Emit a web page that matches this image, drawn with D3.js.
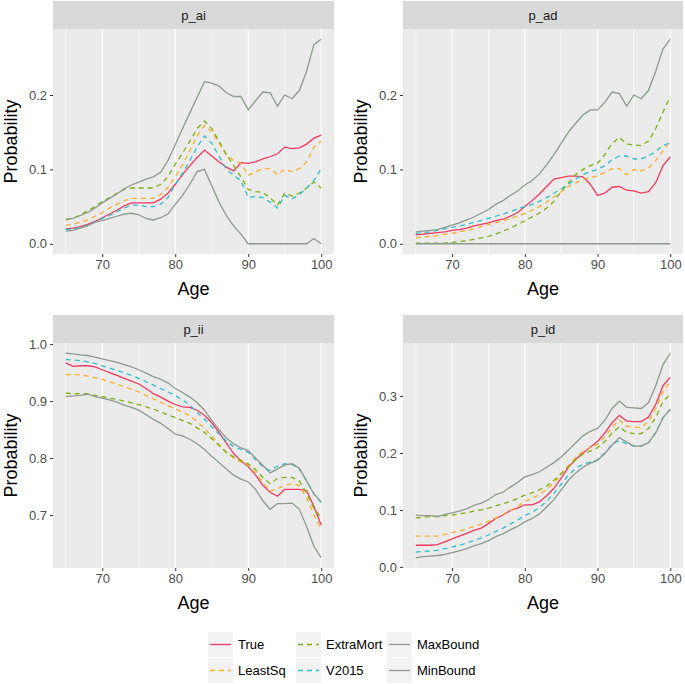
<!DOCTYPE html>
<html>
<head>
<meta charset="utf-8">
<script src="https://cdn.jsdelivr.net/npm/d3@7"></script>
<style>
  body { margin: 0; background: #fff; }
  svg { font-family: "Liberation Sans", Arial, sans-serif; }
</style>
</head>
<body>
<svg width="685" height="684"></svg>
<script>
// ages on x axis
var ages = d3.range(65, 101);

var seriesNames = ["True", "LeastSq", "ExtraMort", "V2015", "MaxBound", "MinBound"];
var colors = ["#F23A5E", "#FBAE2C", "#7CB10F", "#2EBFD0", "#8E9A8E", "#8E9A8E"];
var dashed = [false, true, true, true, false, false];

// p_ai
var ai_true  = [0.020,0.021,0.023,0.026,0.030,0.035,0.040,0.045,0.051,0.055,0.055,0.055,0.055,0.060,0.068,0.080,0.093,0.105,0.116,0.126,0.118,0.110,0.103,0.098,0.109,0.108,0.110,0.114,0.117,0.121,0.130,0.128,0.129,0.134,0.142,0.146];
var ai_lsq   = [0.025,0.026,0.029,0.032,0.037,0.042,0.048,0.053,0.058,0.061,0.061,0.061,0.061,0.066,0.076,0.090,0.106,0.125,0.145,0.159,0.151,0.135,0.120,0.112,0.108,0.092,0.097,0.101,0.101,0.093,0.100,0.097,0.101,0.110,0.130,0.138];
var ai_extra = [0.032,0.034,0.039,0.044,0.050,0.057,0.062,0.068,0.073,0.075,0.075,0.075,0.075,0.080,0.090,0.107,0.122,0.138,0.155,0.165,0.155,0.138,0.120,0.105,0.090,0.073,0.070,0.069,0.062,0.052,0.068,0.064,0.068,0.075,0.083,0.075];
var ai_v2015 = [0.019,0.020,0.022,0.025,0.029,0.034,0.038,0.043,0.048,0.052,0.052,0.050,0.050,0.053,0.062,0.080,0.095,0.112,0.130,0.145,0.135,0.118,0.100,0.092,0.085,0.062,0.064,0.062,0.056,0.048,0.065,0.060,0.066,0.075,0.085,0.101];
var ai_max   = [0.033,0.034,0.038,0.042,0.048,0.055,0.061,0.067,0.074,0.079,0.083,0.087,0.090,0.096,0.112,0.133,0.155,0.176,0.197,0.218,0.216,0.212,0.203,0.198,0.198,0.180,0.192,0.204,0.203,0.185,0.200,0.195,0.206,0.232,0.268,0.275];
var ai_min   = [0.017,0.018,0.021,0.024,0.029,0.031,0.034,0.037,0.040,0.041,0.039,0.034,0.032,0.035,0.040,0.053,0.065,0.080,0.097,0.100,0.078,0.056,0.038,0.024,0.013,0.000,0.000,0.000,0.000,0.000,0.000,0.000,0.000,0.000,0.007,0.000];

// p_ad
var ad_true  = [0.012,0.013,0.014,0.015,0.016,0.018,0.019,0.021,0.024,0.026,0.028,0.031,0.033,0.037,0.042,0.050,0.058,0.067,0.077,0.087,0.089,0.091,0.091,0.090,0.080,0.065,0.068,0.076,0.077,0.072,0.071,0.068,0.070,0.082,0.105,0.117];
var ad_lsq   = [0.008,0.009,0.010,0.011,0.013,0.014,0.016,0.018,0.020,0.023,0.026,0.028,0.031,0.034,0.037,0.041,0.045,0.050,0.056,0.063,0.070,0.077,0.082,0.086,0.089,0.091,0.096,0.101,0.101,0.093,0.100,0.098,0.102,0.112,0.125,0.138];
var ad_extra = [0.001,0.001,0.001,0.001,0.001,0.002,0.003,0.004,0.006,0.008,0.010,0.013,0.017,0.021,0.026,0.031,0.036,0.041,0.048,0.057,0.070,0.082,0.093,0.100,0.105,0.108,0.120,0.135,0.143,0.134,0.133,0.132,0.138,0.155,0.177,0.198];
var ad_v2015 = [0.014,0.015,0.016,0.018,0.020,0.022,0.024,0.026,0.029,0.031,0.034,0.037,0.040,0.043,0.047,0.050,0.053,0.057,0.062,0.068,0.074,0.080,0.087,0.093,0.097,0.100,0.105,0.113,0.118,0.118,0.114,0.114,0.118,0.124,0.132,0.136];
var ad_max   = [0.016,0.017,0.018,0.019,0.022,0.025,0.028,0.032,0.036,0.041,0.046,0.053,0.058,0.065,0.071,0.079,0.085,0.094,0.106,0.120,0.135,0.150,0.162,0.173,0.180,0.180,0.190,0.204,0.202,0.185,0.200,0.195,0.206,0.232,0.262,0.275];
var ad_min   = [0,0,0,0,0,0,0,0,0,0,0,0,0,0,0,0,0,0,0,0,0,0,0,0,0,0,0,0,0,0,0,0,0,0,0,0];

// p_ii
var ii_true  = [0.967,0.961,0.962,0.962,0.960,0.955,0.950,0.945,0.940,0.935,0.930,0.922,0.913,0.907,0.900,0.894,0.890,0.889,0.884,0.875,0.862,0.845,0.826,0.808,0.795,0.785,0.770,0.752,0.740,0.733,0.745,0.745,0.745,0.743,0.715,0.682];
var ii_lsq   = [0.946,0.947,0.946,0.944,0.941,0.938,0.934,0.930,0.925,0.921,0.916,0.910,0.904,0.898,0.892,0.886,0.881,0.874,0.864,0.852,0.838,0.824,0.810,0.800,0.793,0.788,0.775,0.757,0.742,0.746,0.752,0.755,0.752,0.730,0.700,0.674];
var ii_extra = [0.914,0.913,0.913,0.913,0.910,0.908,0.905,0.903,0.900,0.897,0.894,0.890,0.886,0.881,0.876,0.871,0.866,0.861,0.853,0.845,0.834,0.822,0.810,0.802,0.796,0.790,0.780,0.766,0.755,0.764,0.766,0.766,0.760,0.738,0.712,0.695];
var ii_v2015 = [0.973,0.972,0.971,0.969,0.966,0.962,0.958,0.954,0.950,0.945,0.940,0.934,0.928,0.922,0.916,0.910,0.902,0.893,0.880,0.868,0.855,0.842,0.830,0.820,0.815,0.810,0.797,0.785,0.778,0.786,0.790,0.789,0.781,0.760,0.737,0.722];
var ii_max   = [0.984,0.983,0.981,0.980,0.977,0.974,0.971,0.968,0.964,0.960,0.955,0.949,0.943,0.938,0.932,0.922,0.915,0.907,0.897,0.884,0.866,0.850,0.835,0.825,0.818,0.813,0.800,0.787,0.774,0.781,0.788,0.790,0.782,0.760,0.737,0.723];
var ii_min   = [0.908,0.909,0.910,0.912,0.908,0.905,0.902,0.898,0.893,0.889,0.884,0.876,0.868,0.861,0.852,0.842,0.839,0.833,0.825,0.815,0.803,0.792,0.781,0.770,0.763,0.758,0.745,0.725,0.710,0.720,0.720,0.721,0.710,0.680,0.645,0.625];

// p_id
var id_true  = [0.038,0.038,0.038,0.039,0.044,0.049,0.054,0.059,0.064,0.068,0.076,0.085,0.091,0.099,0.103,0.109,0.109,0.114,0.125,0.138,0.156,0.175,0.189,0.200,0.210,0.220,0.235,0.253,0.266,0.256,0.255,0.255,0.263,0.285,0.318,0.333];
var id_lsq   = [0.054,0.054,0.054,0.054,0.057,0.060,0.063,0.067,0.071,0.075,0.080,0.086,0.092,0.099,0.106,0.115,0.120,0.127,0.136,0.148,0.162,0.178,0.192,0.203,0.210,0.215,0.228,0.245,0.258,0.247,0.245,0.245,0.255,0.278,0.308,0.325];
var id_extra = [0.086,0.087,0.088,0.089,0.090,0.091,0.093,0.095,0.098,0.100,0.103,0.107,0.111,0.115,0.120,0.126,0.130,0.135,0.142,0.152,0.164,0.176,0.188,0.198,0.203,0.209,0.220,0.235,0.246,0.236,0.234,0.234,0.243,0.262,0.290,0.303];
var id_v2015 = [0.026,0.027,0.028,0.029,0.032,0.035,0.038,0.042,0.046,0.051,0.056,0.062,0.068,0.075,0.082,0.090,0.096,0.104,0.115,0.129,0.145,0.161,0.173,0.180,0.184,0.188,0.200,0.215,0.222,0.216,0.212,0.212,0.218,0.236,0.262,0.276];
var id_max   = [0.091,0.090,0.090,0.088,0.092,0.095,0.098,0.102,0.108,0.112,0.118,0.127,0.131,0.140,0.148,0.158,0.162,0.167,0.175,0.183,0.193,0.205,0.218,0.230,0.238,0.243,0.257,0.278,0.291,0.280,0.279,0.278,0.288,0.318,0.355,0.375];
var id_min   = [0.016,0.018,0.019,0.020,0.022,0.025,0.028,0.032,0.037,0.041,0.046,0.053,0.058,0.065,0.071,0.079,0.085,0.093,0.105,0.118,0.135,0.152,0.165,0.175,0.182,0.187,0.199,0.214,0.227,0.219,0.212,0.212,0.218,0.235,0.262,0.277];

var yTicksAi = [0.0, 0.1, 0.2];
var yTicksIi = [0.7, 0.8, 0.9, 1.0];
var yTicksId = [0.0, 0.1, 0.2, 0.3];
var xTicks = [70, 80, 90, 100];
var xMinor = [65, 75, 85, 95];

var panels = [
  {title: "p_ai", series: [ai_true, ai_lsq, ai_extra, ai_v2015, ai_max, ai_min], ticks: yTicksAi, x0: 53, x1: 334, top: 1},
  {title: "p_ad", series: [ad_true, ad_lsq, ad_extra, ad_v2015, ad_max, ad_min], ticks: yTicksAi, x0: 403, x1: 683, top: 1},
  {title: "p_ii", series: [ii_true, ii_lsq, ii_extra, ii_v2015, ii_max, ii_min], ticks: yTicksIi, x0: 53, x1: 334, top: 315},
  {title: "p_id", series: [id_true, id_lsq, id_extra, id_v2015, id_max, id_min], ticks: yTicksId, x0: 403, x1: 683, top: 315}
];

var svg = d3.select("svg");
var stripH = 28, plotH = 225;

panels.forEach(function(p) {
  var g = svg.append("g");
  var yTop = p.top + stripH, yBot = yTop + plotH;

  // ggplot-style 5% expansion
  var all = d3.merge(p.series);
  var ext = d3.extent(all), pad = (ext[1] - ext[0]) * 0.05;
  var x = d3.scaleLinear().domain([65 - 1.75, 100 + 1.75]).range([p.x0, p.x1]);
  var y = d3.scaleLinear().domain([ext[0] - pad, ext[1] + pad]).range([yBot, yTop]);

  // panel background + strip
  g.append("rect").attr("x", p.x0).attr("y", yTop).attr("width", p.x1 - p.x0).attr("height", plotH).attr("fill", "#EBEBEB");
  g.append("rect").attr("x", p.x0).attr("y", p.top).attr("width", p.x1 - p.x0).attr("height", stripH).attr("fill", "#D9D9D9");
  g.append("text").attr("x", (p.x0 + p.x1) / 2).attr("y", p.top + stripH / 2 + 4.5)
    .attr("text-anchor", "middle").attr("font-size", 13).attr("fill", "#1A1A1A").text(p.title);

  // vertical grid only
  g.selectAll(".minor").data(xMinor).enter().append("line")
    .attr("x1", d => x(d)).attr("x2", d => x(d)).attr("y1", yTop).attr("y2", yBot)
    .attr("stroke", "#fff").attr("stroke-width", 0.6);
  g.selectAll(".major").data(xTicks).enter().append("line")
    .attr("x1", d => x(d)).attr("x2", d => x(d)).attr("y1", yTop).attr("y2", yBot)
    .attr("stroke", "#fff").attr("stroke-width", 1.2);

  // axes
  var xa = g.append("g").attr("transform", "translate(0," + yBot + ")")
    .call(d3.axisBottom(x).tickValues(xTicks).tickSize(3).tickPadding(3).tickFormat(d3.format("d")));
  var ya = g.append("g").attr("transform", "translate(" + p.x0 + ",0)")
    .call(d3.axisLeft(y).tickValues(p.ticks).tickSize(3).tickPadding(3).tickFormat(d3.format(".1f")));
  [xa, ya].forEach(function(a) {
    a.select(".domain").remove();
    a.selectAll("line").attr("stroke", "#333");
    a.selectAll("text").attr("font-size", 13).attr("fill", "#4D4D4D").attr("font-family", "Liberation Sans, Arial, sans-serif");
  });

  // axis titles
  g.append("text").attr("x", (p.x0 + p.x1) / 2).attr("y", yBot + 41)
    .attr("text-anchor", "middle").attr("font-size", 18).attr("fill", "#000").text("Age");
  g.append("text").attr("transform", "translate(" + (p.x0 - 36) + "," + ((yTop + yBot) / 2) + ") rotate(-90)")
    .attr("text-anchor", "middle").attr("font-size", 18).attr("fill", "#000").text("Probability");

  // lines
  var line = d3.line().x((d, i) => x(ages[i])).y(d => y(d));
  p.series.forEach(function(s, k) {
    g.append("path").datum(s).attr("d", line)
      .attr("fill", "none").attr("stroke", colors[k]).attr("stroke-width", 1.3)
      .attr("stroke-dasharray", dashed[k] ? "5,4" : null);
  });
});

// legend (3 columns, 2 rows, column-major)
var legX = [208, 296, 387], legY = [632, 658];
var leg = svg.append("g");
seriesNames.forEach(function(name, k) {
  var cx = legX[Math.floor(k / 2)], cy = legY[k % 2];
  leg.append("rect").attr("x", cx).attr("y", cy).attr("width", 25).attr("height", 25).attr("fill", "#F2F2F2");
  leg.append("line").attr("x1", cx + 2).attr("x2", cx + 23).attr("y1", cy + 12.5).attr("y2", cy + 12.5)
    .attr("stroke", colors[k]).attr("stroke-width", 1.3).attr("stroke-dasharray", dashed[k] ? "5,4" : null);
  leg.append("text").attr("x", cx + 30).attr("y", cy + 17).attr("font-size", 13).attr("fill", "#000").text(name);
});
</script>
</body>
</html>
